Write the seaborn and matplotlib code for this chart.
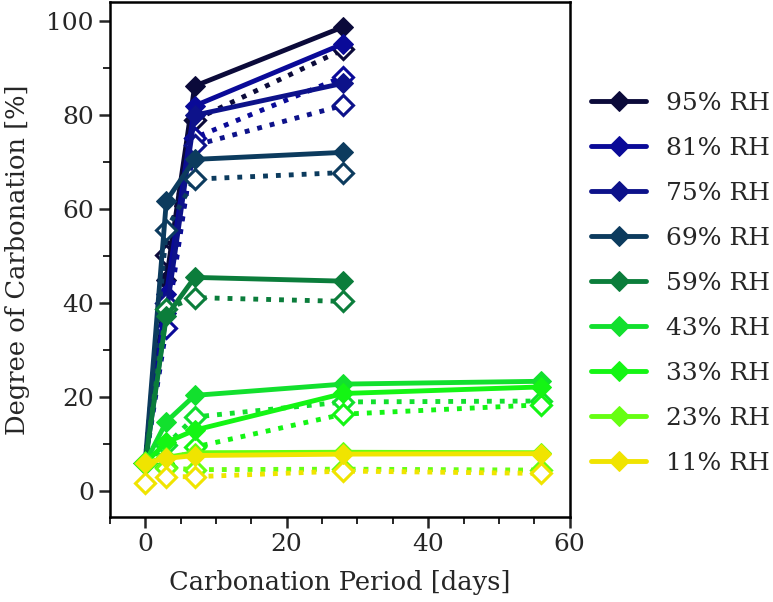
import matplotlib
matplotlib.use("Agg")
import matplotlib.pyplot as plt
import seaborn as sns
from matplotlib.ticker import MultipleLocator

# carbonation periods [days]
days_long = [0, 3, 7, 28, 56]
days_short = [0, 3, 7, 28]

labels = ["95% RH", "81% RH", "75% RH", "69% RH", "59% RH",
          "43% RH", "33% RH", "23% RH", "11% RH"]
colors = ["#0b0a3a", "#0a0a98", "#0d128a", "#0c3b5e", "#0b7d3b",
          "#12e02e", "#14f514", "#66ff12", "#f0e400"]

# filled markers (solid lines)
solid = [
    [6, 45, 86.2, 98.8],
    [6, 42, 82.0, 95.2],
    [6, 38, 80.0, 86.8],
    [6, 61.8, 70.6, 72.1],
    [6, 37.2, 45.5, 44.7],
    [6, 14.8, 20.4, 22.8, 23.4],
    [6, 10.4, 13.0, 20.8, 22.2],
    [6, 7.2, 8.2, 8.3, 8.2],
    [6, 7.0, 7.6, 7.9, 8.0],
]

# open markers (dotted lines)
dotted = [
    [6, 50.3, 79.0, 94.0],
    [6, 34.8, 75.2, 88.2],
    [6, 40.0, 73.6, 82.1],
    [6, 55.6, 66.4, 67.8],
    [6, 38.8, 41.2, 40.4],
    [6, 9.8, 15.8, 19.0, 19.2],
    [6, 5.2, 9.4, 16.4, 18.4],
    [6, 5.0, 4.6, 4.7, 4.5],
    [1.7, 3.1, 3.1, 4.3, 3.8],
]

sns.set_style("ticks")
plt.rcParams["font.family"] = ["DejaVu Serif"]
plt.rcParams["font.size"] = 18

fig = plt.figure(figsize=(7.73, 6.02), dpi=100)
ax = fig.add_axes([0.142, 0.141, 0.595, 0.855])

for i in range(len(labels)):
    x = days_short if len(solid[i]) == 4 else days_long
    sns.lineplot(x=x, y=dotted[i], ax=ax, color=colors[i], linestyle=":",
                 linewidth=3.5, marker="D", markersize=10.5, markerfacecolor="white",
                 markeredgecolor=colors[i], markeredgewidth=2.2, legend=False)
    sns.lineplot(x=x, y=solid[i], ax=ax, color=colors[i], linewidth=3.5,
                 marker="D", markersize=10.5, markeredgecolor=colors[i],
                 label=labels[i])

ax.set_xlim(-5, 60)
ax.set_ylim(-5.5, 104)
ax.xaxis.set_major_locator(MultipleLocator(20))
ax.xaxis.set_minor_locator(MultipleLocator(5))
ax.yaxis.set_major_locator(MultipleLocator(20))
ax.yaxis.set_minor_locator(MultipleLocator(10))
ax.tick_params(which="major", direction="out", length=8, width=1.8, labelsize=18)
ax.tick_params(which="minor", direction="out", length=5, width=1.4)
for s in ax.spines.values():
    s.set_linewidth(1.8)
    s.set_color("black")
ax.set_xlabel("Carbonation Period [days]", fontsize=18.5, labelpad=10)
ax.set_ylabel("Degree of Carbonation [%]", fontsize=18.5, labelpad=12)

ax.legend(loc="upper left", bbox_to_anchor=(1.025, 0.845), frameon=False,
          fontsize=18, handlelength=2.2, handletextpad=0.8, labelspacing=0.88,
          borderaxespad=0)

fig.savefig("out.png", dpi=100)
